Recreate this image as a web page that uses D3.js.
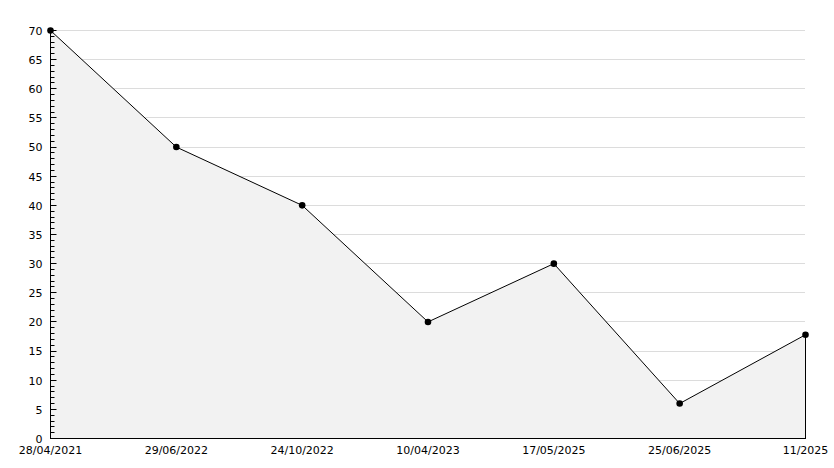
<!DOCTYPE html>
<html>
<head>
<meta charset="utf-8">
<script src="https://cdn.jsdelivr.net/npm/d3@7"></script>
<style>
  body { margin: 0; background: #fff; }
  text { font-family: "DejaVu Sans", sans-serif; font-size: 11px; fill: #000; }
</style>
</head>
<body>
<svg id="chart" width="834" height="468"></svg>
<script>
// data
var dates = ["28/04/2021", "29/06/2022", "24/10/2022", "10/04/2023", "17/05/2025", "25/06/2025", "11/2025"];
var values = [70, 50, 40, 20, 30, 6, 17.8];
var yTicks = [0, 5, 10, 15, 20, 25, 30, 35, 40, 45, 50, 55, 60, 65, 70];

var svg = d3.select("#chart");
// plot box (window.top is reserved, so no plain "top" here)
var plotLeft = 50, plotRight = 805, plotTop = 30, plotBottom = 438;

var x = d3.scalePoint().domain(dates).range([plotLeft, plotRight]);
var y = d3.scaleLinear().domain([0, 70]).range([plotBottom, plotTop]);

var pts = dates.map(function(d, i) { return { d: d, v: values[i] }; });

// grid
svg.append("g")
    .selectAll("line")
    .data(yTicks.filter(function(t) { return t > 0; }))
    .enter().append("line")
    .attr("x1", plotLeft).attr("x2", plotRight)
    .attr("y1", function(t) { return Math.round(y(t)) + 0.5; })
    .attr("y2", function(t) { return Math.round(y(t)) + 0.5; })
    .attr("stroke", "#dcdcdc")
    .attr("stroke-width", 1);

// area, opaque so it covers the grid
var area = d3.area()
    .x(function(d) { return x(d.d) + 0.5; })
    .y0(y(0) + 0.5)
    .y1(function(d) { return y(d.v) + 0.5; });

svg.append("path")
    .datum(pts)
    .attr("d", area)
    .attr("fill", "#f2f2f2")
    .attr("stroke", "none");

var line = d3.line()
    .x(function(d) { return x(d.d) + 0.5; })
    .y(function(d) { return y(d.v) + 0.5; });

svg.append("path")
    .datum(pts)
    .attr("d", line)
    .attr("fill", "none")
    .attr("stroke", "#000")
    .attr("stroke-width", 1);

// right edge of the area
var last = pts[pts.length - 1];
svg.append("line")
    .attr("x1", x(last.d) + 0.5).attr("x2", x(last.d) + 0.5)
    .attr("y1", y(last.v)).attr("y2", y(0))
    .attr("stroke", "#000");

// x axis
var xAxis = svg.append("g")
    .attr("transform", "translate(0," + (plotBottom + 0.5) + ")")
    .call(d3.axisBottom(x).tickSize(0).tickPadding(8));
xAxis.select(".domain").attr("d", "M" + plotLeft + ",0H" + (plotRight + 1)).attr("stroke", "#000");
xAxis.selectAll("text").attr("font-size", 11).attr("font-family", "DejaVu Sans, sans-serif");

// y axis: minor ticks every 1, labels every 5, ticks pointing into the plot
var yAxis = svg.append("g")
    .attr("transform", "translate(" + (plotLeft + 0.5) + ",0)");
yAxis.append("line")
    .attr("x1", 0).attr("x2", 0)
    .attr("y1", y(70)).attr("y2", y(0) + 1)
    .attr("stroke", "#000");
yAxis.selectAll("line.minor")
    .data(d3.range(0, 71))
    .enter().append("line")
    .attr("class", "minor")
    .attr("x1", 0)
    .attr("x2", function(t) { return t % 5 === 0 ? 6 : 4; })
    .attr("y1", function(t) { return Math.round(y(t)) + 0.5; })
    .attr("y2", function(t) { return Math.round(y(t)) + 0.5; })
    .attr("stroke", "#000");
yAxis.selectAll("text")
    .data(yTicks)
    .enter().append("text")
    .attr("x", -8)
    .attr("y", function(t) { return y(t) + 1; })
    .attr("dy", "0.35em")
    .attr("text-anchor", "end")
    .text(function(t) { return t; });

// markers
svg.append("g")
    .selectAll("path")
    .data(pts)
    .enter().append("path")
    .attr("transform", function(d) { return "translate(" + (x(d.d) + 0.5) + "," + (y(d.v) + 0.5) + ")"; })
    .attr("d", d3.symbol().type(d3.symbolCircle).size(34))
    .attr("fill", "#000");
</script>
</body>
</html>
